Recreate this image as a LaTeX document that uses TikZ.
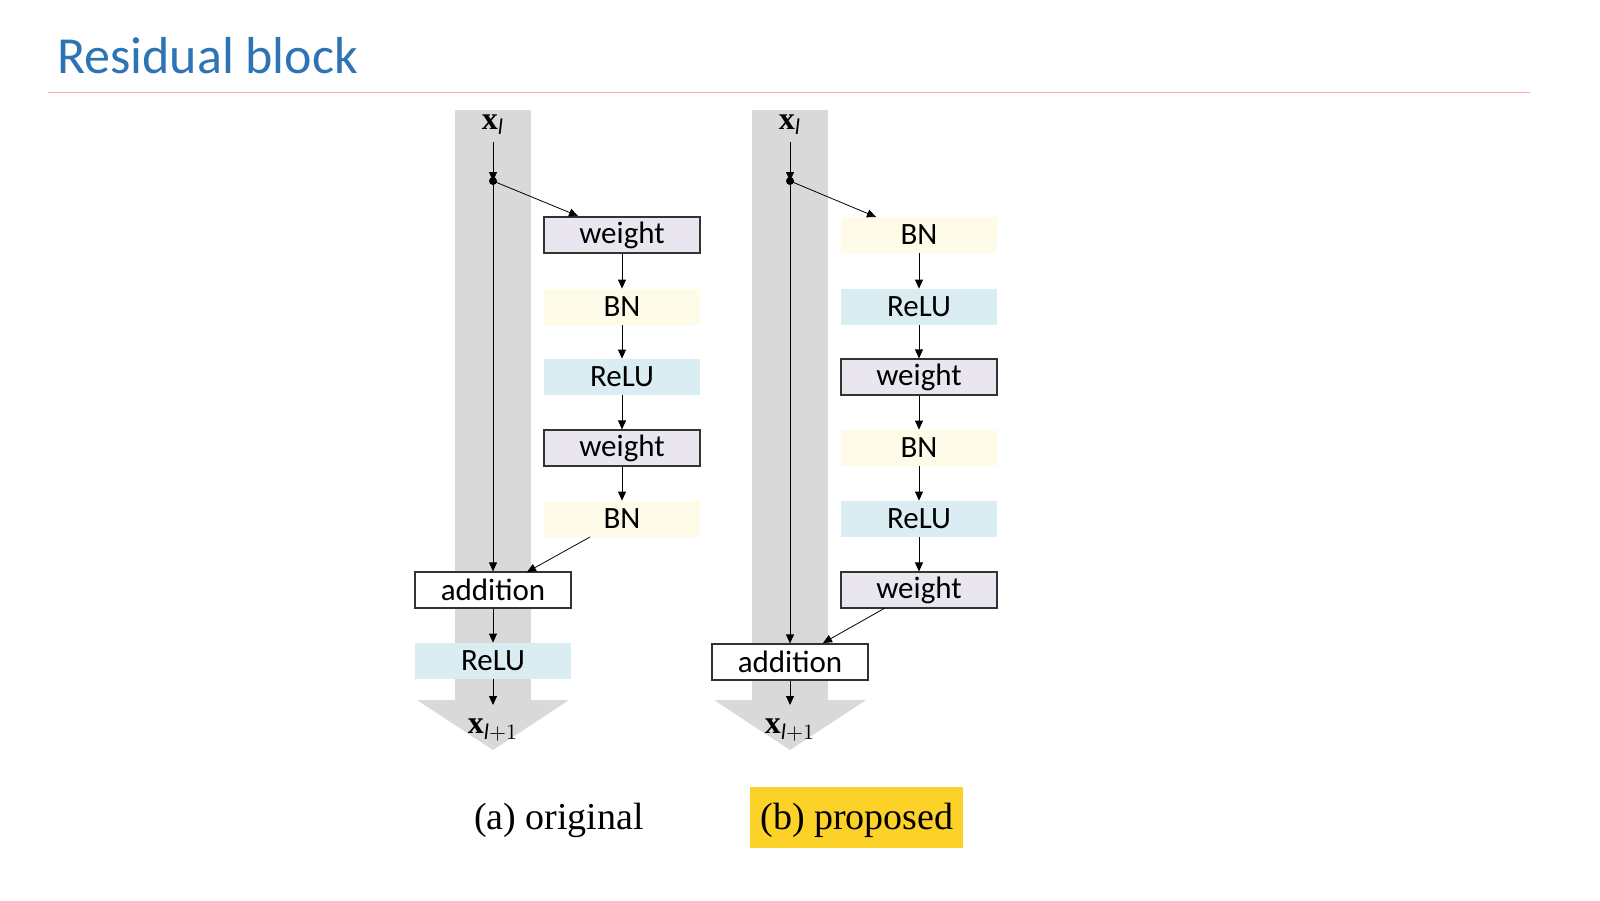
\documentclass[tikz,border=0pt]{standalone}
\usepackage{fontspec}
\setmainfont{Carlito}
\newfontfamily\tms{Liberation Serif}
\usetikzlibrary{arrows.meta}
\definecolor{ttl}{RGB}{46,116,181}
\definecolor{colg}{RGB}{217,217,217}
\definecolor{bnc}{RGB}{254,252,232}
\definecolor{reluc}{RGB}{218,237,243}
\definecolor{wc}{RGB}{234,230,240}
\definecolor{hl}{RGB}{252,210,40}
\tikzset{
 blk/.style={minimum width=78pt,minimum height=18pt,inner sep=0pt,font=\fontsize{15.5}{15.5}\selectfont},
 bn/.style={blk,fill=bnc},
 relu/.style={blk,fill=reluc},
 wt/.style={blk,fill=wc,draw=black!80,line width=0.6pt},
 add/.style={blk,fill=white,draw=black!80,line width=0.6pt},
 ar/.style={-{Triangle[length=4.5pt,width=4pt]},line width=0.4pt},
 xl/.style={font=\tms\bfseries\fontsize{16}{16}\selectfont},
}
\begin{document}
\begin{tikzpicture}[x=0.5pt,y=-0.5pt]
\useasboundingbox (0,0) rectangle (1600,900);
\node[anchor=west,text=ttl,font=\fontsize{26}{26}\selectfont] (title) at (50,56) {Residual block};
\draw[red!35,line width=0.5pt] (48,92) -- (1530,92);
\foreach \c in {493,790}{
 \fill[colg] (\c-38,110) rectangle (\c+38,700);
 \fill[colg] (\c-76,700) -- (\c+76,700) -- (\c,750) -- cycle;
}
% (a)
\node[xl] (xa) at (493,125) {x$_{\mathit{l}}$};
\coordinate (da) at (493,181);
\node[wt] (a1) at (622,235) {weight};
\node[bn] (a2) at (622,307) {BN};
\node[relu] (a3) at (622,377) {ReLU};
\node[wt] (a4) at (622,448) {weight};
\node[bn] (a5) at (622,519) {BN};
\node[add] (aadd) at (493,590) {addition};
\node[relu] (arelu) at (493,661) {ReLU};
\node[xl] (xa1) at (493,730) {x$_{\mathit{l}+1}$};
\draw[ar] (xa) -- (da);
\fill (da) circle (4);
\draw[ar] (da) -- (578,216);
\draw[ar] (a1) -- (a2); \draw[ar] (a2) -- (a3); \draw[ar] (a3) -- (a4); \draw[ar] (a4) -- (a5);
\draw[ar] (da) -- (aadd);
\draw[ar] (590,537) -- (527,572);
\draw[ar] (aadd) -- (arelu);
\draw[ar] (arelu) -- (493,705);
% (b)
\node[xl] (xb) at (790,125) {x$_{\mathit{l}}$};
\coordinate (db) at (790,181);
\node[bn] (b1) at (919,235) {BN};
\node[relu] (b2) at (919,307) {ReLU};
\node[wt] (b3) at (919,377) {weight};
\node[bn] (b4) at (919,448) {BN};
\node[relu] (b5) at (919,519) {ReLU};
\node[wt] (b6) at (919,590) {weight};
\node[add] (badd) at (790,662) {addition};
\node[xl] (xb1) at (790,730) {x$_{\mathit{l}+1}$};
\draw[ar] (xb) -- (db);
\fill (db) circle (4);
\draw[ar] (db) -- (876,217);
\draw[ar] (b1) -- (b2); \draw[ar] (b2) -- (b3); \draw[ar] (b3) -- (b4); \draw[ar] (b4) -- (b5); \draw[ar] (b5) -- (b6);
\draw[ar] (db) -- (badd);
\draw[ar] (885,608) -- (823,643);
\draw[ar] (badd) -- (790,705);
% captions
\node[font=\tms\fontsize{19}{19}\selectfont] (ca) at (559,820) {(a) original};
\fill[hl] (750,787) rectangle (963,848);
\node[font=\tms\fontsize{19}{19}\selectfont] (cb) at (857,820) {(b) proposed};
\end{tikzpicture}
\end{document}
